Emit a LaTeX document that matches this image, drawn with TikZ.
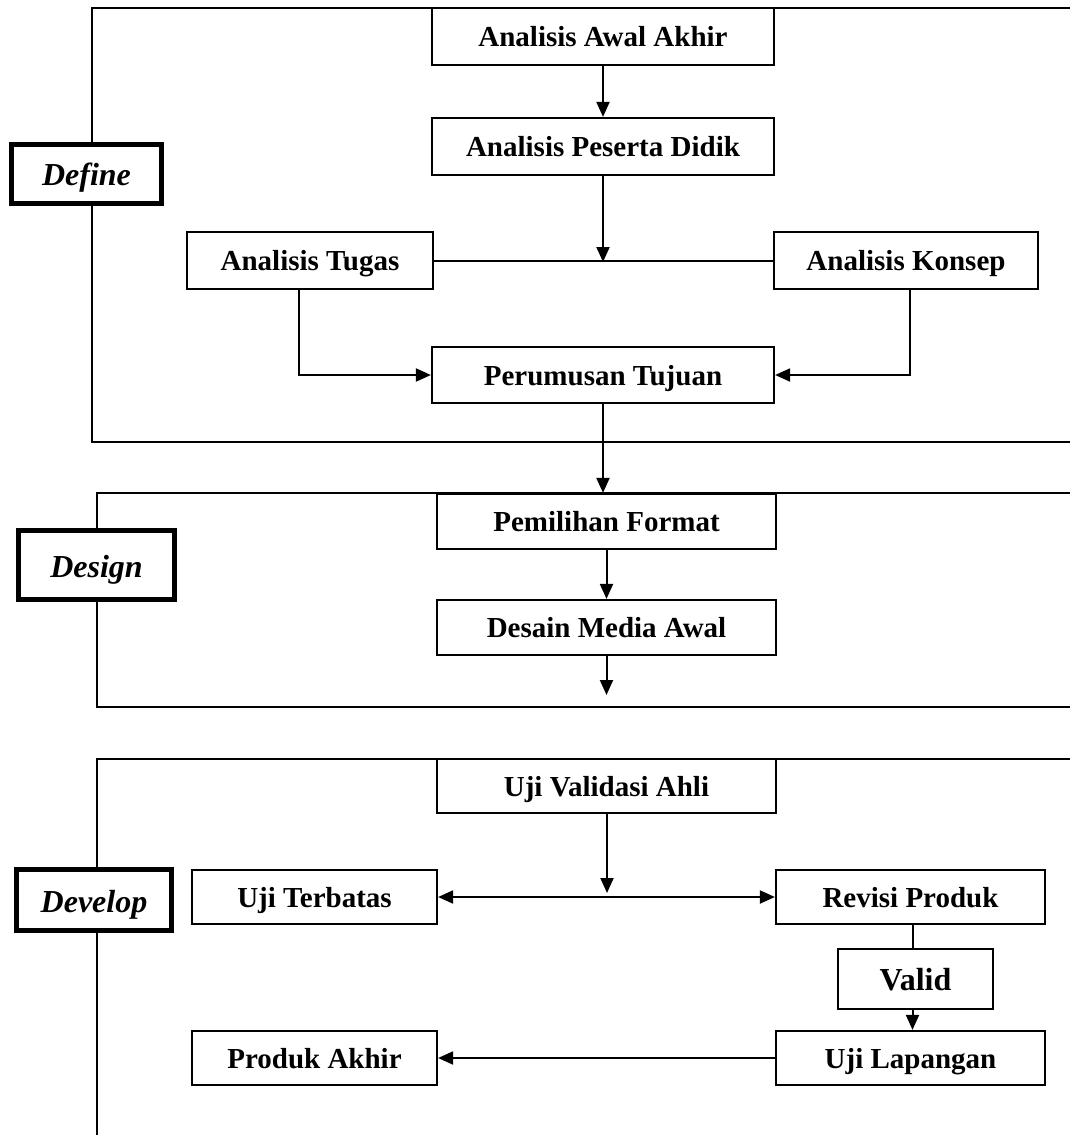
\documentclass[tikz,border=0pt]{standalone}
\usepackage{fontspec}
\setmainfont{Liberation Serif}
\usetikzlibrary{arrows.meta}
\begin{document}
\begin{tikzpicture}[x=1pt,y=-1pt,
    >={Triangle[length=15pt,width=13pt]},
    frame/.style={line width=2.5pt},
    box/.style={draw,fill=white,line width=2.2pt,minimum height=56pt,inner sep=0pt,
      text height=22pt,text depth=2pt,
      font=\fontsize{29}{33}\selectfont\bfseries},
    stage/.style={draw,fill=white,line width=5pt,inner sep=0pt,
      text height=24pt,text depth=0pt,
      font=\fontsize{32}{36}\selectfont\bfseries\itshape},
    flow/.style={line width=2pt}]
  \useasboundingbox (0,0) rectangle (1070,1135);
  % frames of the three stages
  \draw[frame] (1072,8) -- (92,8) -- (92,442) -- (1072,442);
  \draw[frame] (1072,493) -- (97,493) -- (97,707) -- (1072,707);
  \draw[frame] (1072,759) -- (97,759) -- (97,1137);
  \draw
    (86.5,173.5) node[stage,minimum width=150pt,minimum height=59pt] (define){Define}
    (96.5,565) node[stage,minimum width=156pt,minimum height=69pt] (design){Design}
    (94,900) node[stage,minimum width=155pt,minimum height=61pt] (develop){Develop};
  % define
  \draw
    (603,36.5) node[box,minimum width=342pt,minimum height=57pt] (awal){Analisis Awal Akhir}
    (603,146.5) node[box,minimum width=342pt,minimum height=57pt] (peserta){Analisis Peserta Didik}
    (310,260.5) node[box,minimum width=246pt,minimum height=57pt] (tugas){Analisis Tugas}
    (906,260.5) node[box,minimum width=264pt,minimum height=57pt] (konsep){Analisis Konsep}
    (603,375) node[box,minimum width=342pt] (tujuan){Perumusan Tujuan};
  % design
  \draw
    (606.5,521.5) node[box,minimum width=339pt,minimum height=55pt] (format){Pemilihan Format}
    (606.5,627.5) node[box,minimum width=339pt,minimum height=55pt] (desain){Desain Media Awal};
  % develop
  \draw
    (606.5,786) node[box,minimum width=339pt,minimum height=54pt] (validasi){Uji Validasi Ahli}
    (314.5,897) node[box,minimum width=245pt,minimum height=54pt] (terbatas){Uji Terbatas}
    (910.5,897) node[box,minimum width=269pt,minimum height=54pt] (revisi){Revisi Produk}
    (915.5,979) node[box,minimum width=155pt,minimum height=60pt,text height=24pt,
      font=\fontsize{32}{36}\selectfont\bfseries] (valid){Valid}
    (910.5,1058) node[box,minimum width=269pt,minimum height=54pt] (lapangan){Uji Lapangan}
    (314.5,1058) node[box,minimum width=245pt,minimum height=54pt] (akhir){Produk Akhir};
  \coordinate (j1) at (603,262);
  \coordinate (j2) at (607,893);
  \coordinate (out) at (606.5,695);
  \begin{scope}[flow,->]
    \draw (awal) to (peserta);
    \draw (peserta) to (j1);
    \draw[-] (tugas) to (konsep);
    \draw ([xshift=-11pt]tugas.south) |- (tujuan);
    \draw ([xshift=4pt]konsep.south) |- (tujuan);
    \draw (tujuan.south) to (tujuan.south |- format.north);
    \draw (format) to (desain);
    \draw (desain) to (out);
    \draw (validasi.south -| j2) to (j2);
    \draw[<->] (terbatas) to (revisi);
    \draw[-] ([xshift=2pt]revisi.south) to ([xshift=2pt]revisi.south |- valid.north);
    \draw ([xshift=2pt]revisi.south |- valid.south) to ([xshift=2pt]revisi.south |- lapangan.north);
    \draw (lapangan) to (akhir);
  \end{scope}
\end{tikzpicture}
\end{document}
